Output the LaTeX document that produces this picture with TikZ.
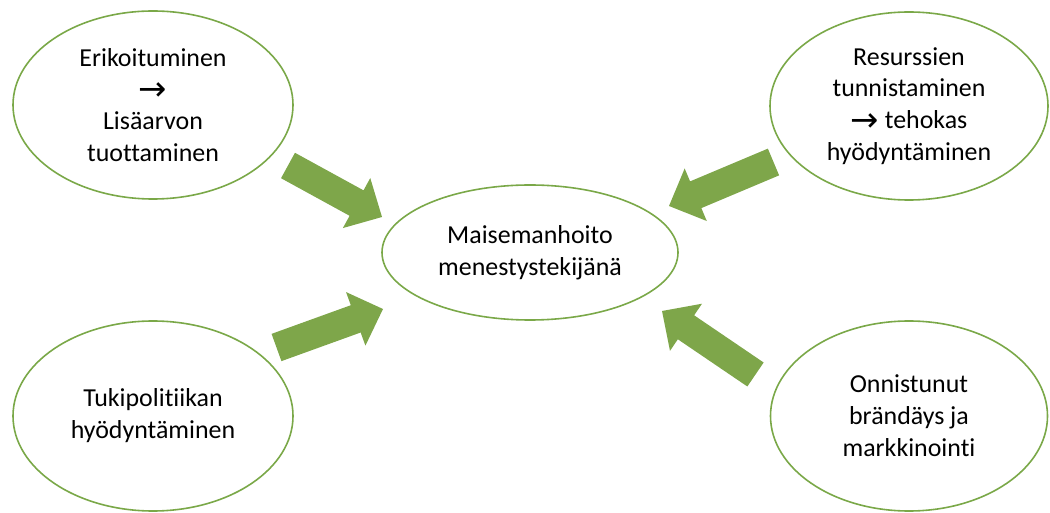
\documentclass[tikz,border=0pt]{standalone}
\usepackage{fontspec}
\setmainfont{Carlito}[Ligatures=NoCommon]
\newfontfamily\arrfont{DejaVu Sans}
\usetikzlibrary{shapes.geometric,calc}
\definecolor{leaf}{RGB}{126,166,74}
\definecolor{rim}{RGB}{122,168,72}
\newcommand\rarr{\raisebox{-3bp}{\arrfont\fontsize{34}{32}\selectfont →}}
\tikzset{
  bubble/.style={ellipse, draw=rim, line width=1.6bp, inner sep=0pt, align=center,
    font=\fontsize{26}{32}\selectfont, text=black},
  arrowfill/.style={fill=leaf, draw=none},
}
\newcommand\blockarrow[2]{%
  \path ($(#2)!29bp!(#1)$) coordinate (#1h);
  \path[arrowfill] ($(#1)!14.5bp!90:(#2)$) -- ($(#1h)!14.5bp!90:(#2)$)
    -- ($(#1h)!28.5bp!90:(#2)$) -- (#2) -- ($(#1h)!28.5bp!-90:(#2)$)
    -- ($(#1h)!14.5bp!-90:(#2)$) -- ($(#1)!14.5bp!-90:(#2)$) -- cycle;
}
\begin{document}
\begin{tikzpicture}[x=1bp,y=-1bp]
\useasboundingbox (0,0) rectangle (1050,513);
\node[bubble, minimum width=280bp, minimum height=188bp] (tl) at (153,105)
  {Erikoituminen\\\rarr\\Lisäarvon\\tuottaminen};
\node[bubble, minimum width=278bp, minimum height=188bp] (tr) at (909,106)
  {Resurssien\\tunnistaminen\\\rarr{} tehokas\\hyödyntäminen};
\node[bubble, minimum width=296bp, minimum height=135bp] (mid) at (530,252.5)
  {Maisemanhoito\\menestystekijänä};
\node[bubble, minimum width=280bp, minimum height=190bp] (bl) at (153,416)
  {Tukipolitiikan\\hyödyntäminen};
\node[bubble, minimum width=277bp, minimum height=190bp] (br) at (909,416)
  {Onnistunut\\brändäys ja\\markkinointi};
\coordinate (tlA) at (288,165.5);
\coordinate (tlB) at (382,217);
\coordinate (trA) at (773.5,162);
\coordinate (trB) at (669,206);
\coordinate (blA) at (276.5,347.5);
\coordinate (blB) at (383,309);
\coordinate (brA) at (755.5,374.5);
\coordinate (brB) at (662,311);
\blockarrow{tlA}{tlB}
\blockarrow{trA}{trB}
\blockarrow{blA}{blB}
\blockarrow{brA}{brB}
\end{tikzpicture}
\end{document}
